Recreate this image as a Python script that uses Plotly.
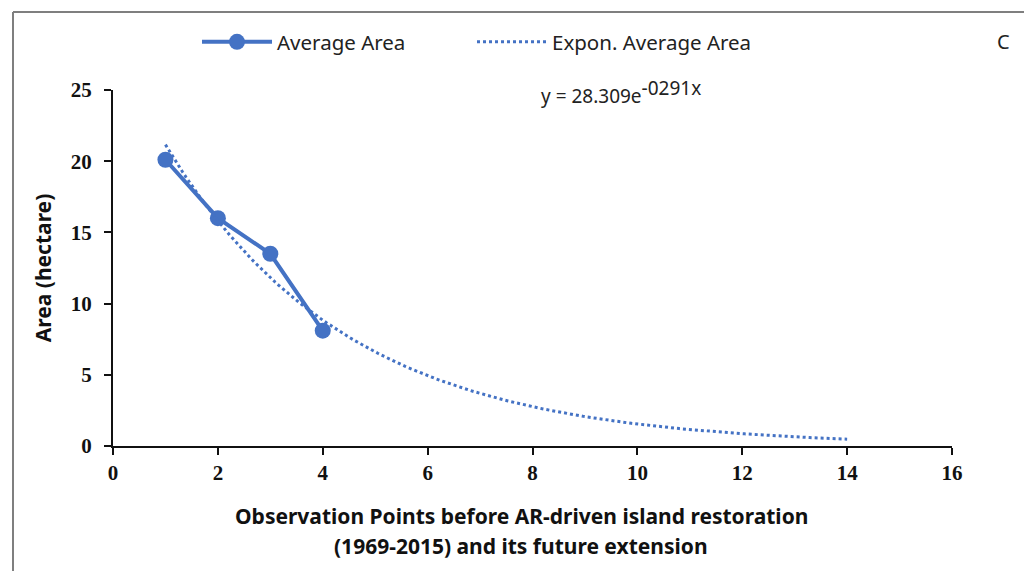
import numpy as np
import plotly.graph_objects as go

# Observed average island area at each observation point
obs_x = [1, 2, 3, 4]
avg_area = [20.1, 16.0, 13.5, 8.1]

# Exponential trendline y = a * exp(b * x), coefficients as printed on the chart
trend_a = 28.309
trend_b = -0.291
trend_start, trend_end = 1, 14

x_ticks = [0, 2, 4, 6, 8, 10, 12, 14, 16]
y_ticks = [0, 5, 10, 15, 20, 25]

BLUE = "#4472c4"
W, H = 1024, 571
ML, MR, MT, MB = 113, 72, 90, 125

trend_x = np.linspace(trend_start, trend_end, 200)
trend_y = trend_a * np.exp(trend_b * trend_x)

fig = go.Figure()
fig.add_trace(go.Scatter(
    x=obs_x, y=avg_area, mode="lines+markers", name="Average Area",
    line=dict(color=BLUE, width=4),
    marker=dict(color=BLUE, size=16),
    cliponaxis=False, legend="legend",
))
fig.add_trace(go.Scatter(
    x=trend_x, y=trend_y, mode="lines", name="Expon. Average Area",
    line=dict(color=BLUE, width=3, dash="dot"),
    cliponaxis=False, legend="legend2",
))

tick_font = dict(family="Liberation Serif", size=21, color="#111", weight="bold")
title_font = dict(family="Noto Sans", size=21, color="#111", weight="bold")
legend_font = dict(family="Noto Sans", size=20.5, color="#222")

fig.update_xaxes(
    range=[0, 16], tickvals=x_ticks, ticktext=[str(v) for v in x_ticks],
    showline=True, linecolor="#111", linewidth=2,
    ticks="outside", ticklen=7, tickwidth=2, tickcolor="#111",
    showgrid=False, zeroline=False,
    tickfont=tick_font,
)
fig.update_yaxes(
    range=[0, 25], tickvals=y_ticks, ticktext=[str(v) for v in y_ticks],
    showline=True, linecolor="#111", linewidth=2,
    ticks="outside", ticklen=7, tickwidth=2, tickcolor="#111",
    showgrid=False, zeroline=False,
    tickfont=tick_font, ticklabelstandoff=8,
    title=dict(text="Area (hectare)", font=title_font, standoff=13),
)

pw = W - ML - MR
ph = H - MT - MB


def px_x(p):
    return (p - ML) / pw


def px_y(p):
    return (H - MB - p) / ph


annotations = [
    dict(text="Observation Points before AR-driven island restoration",
         x=px_x(521), y=px_y(516), xref="paper", yref="paper",
         showarrow=False, font=title_font, xanchor="center", yanchor="middle"),
    dict(text="(1969-2015) and its future extension",
         x=px_x(521), y=px_y(546), xref="paper", yref="paper",
         showarrow=False, font=title_font, xanchor="center", yanchor="middle"),
    dict(text="y = 28.309e<sup><span style='font-size:19px'>-0291x</span></sup>",
         x=px_x(539), y=px_y(92), xref="paper", yref="paper",
         showarrow=False, font=dict(family="Noto Sans", size=19, color="#222"),
         xanchor="left", yanchor="middle"),
    dict(text="C",
         x=px_x(1003), y=px_y(42), xref="paper", yref="paper",
         showarrow=False, font=dict(family="Noto Sans", size=20, color="#222"),
         xanchor="center", yanchor="middle"),
]

# Frame around the figure panel
shapes = [
    dict(type="line", xref="paper", yref="paper",
         x0=px_x(13), x1=px_x(W), y0=px_y(12), y1=px_y(12),
         line=dict(color="#7f7f7f", width=2)),
    dict(type="line", xref="paper", yref="paper",
         x0=px_x(13), x1=px_x(13), y0=px_y(12), y1=px_y(H),
         line=dict(color="#7f7f7f", width=2)),
]

legend_common = dict(
    orientation="h", yanchor="middle", xanchor="left",
    font=legend_font, itemwidth=70, bgcolor="rgba(0,0,0,0)",
)

fig.update_layout(
    width=W, height=H,
    margin=dict(l=ML, r=MR, t=MT, b=MB),
    paper_bgcolor="white", plot_bgcolor="white",
    showlegend=True,
    legend=dict(x=px_x(197), y=px_y(42), **legend_common),
    legend2=dict(x=px_x(472), y=px_y(42), **legend_common),
    annotations=annotations,
    shapes=shapes,
)

fig.write_html("out.html")
